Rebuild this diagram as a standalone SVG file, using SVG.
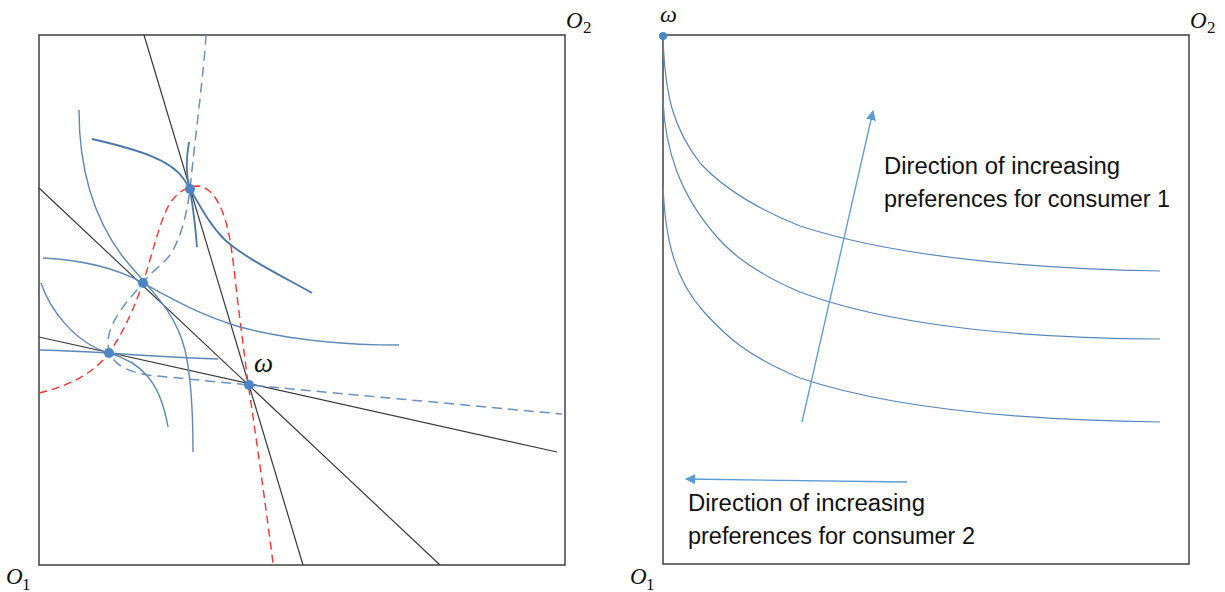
<svg xmlns="http://www.w3.org/2000/svg" width="1225" height="592" viewBox="0 0 1225 592">
<defs>
<style>
.box{fill:none;stroke:#404040;stroke-width:1.5}
.bl{fill:none;stroke:#3a3a3a;stroke-width:1.2}
.ic{fill:none;stroke:#5e88b8;stroke-width:1.4}
.icd{fill:none;stroke:#4a78a8;stroke-width:1.8}
.dash{fill:none;stroke:#6a92c0;stroke-width:1.5;stroke-dasharray:10 6}
.red{fill:none;stroke:#ff3030;stroke-width:1.4;stroke-dasharray:8 5}
.dot{fill:#4a86c5}
.ric{fill:none;stroke:#5a86bb;stroke-width:1.2}
.arr{fill:none;stroke:#5b9bd5;stroke-width:1.3}
.m{font-family:"Liberation Serif","DejaVu Serif",serif;font-style:italic;fill:#111}
.s{font-family:"Liberation Serif","DejaVu Serif",serif;fill:#111}
.t{font-family:"Liberation Sans",Arial,sans-serif;font-size:23px;fill:#111}
</style>
<marker id="ah" viewBox="0 0 10 10" refX="9" refY="5" markerWidth="10" markerHeight="10" markerUnits="userSpaceOnUse" orient="auto">
<path d="M0,0 L10,5 L0,10 z" fill="#5b9bd5"/>
</marker>
</defs>
<rect width="1225" height="592" fill="#fff"/>

<g id="left-panel">
<rect class="box" x="39" y="35" width="526" height="530"/>
</g>

<g id="left-connectors">
<line class="bl" x1="144" y1="35" x2="303" y2="565"/>
<line class="bl" x1="39" y1="188" x2="440" y2="565"/>
<line class="bl" x1="39" y1="337" x2="557" y2="452"/>
<path class="red" d="M39,393 C70,386 95,372 109,353 C125,330 135,305 143,283 C152,255 160,220 170,203 C178,192 186,187 197,186 C212,186 222,205 228,230 C233,252 236,290 240,320 L248,383 Q261,470 273,563"/>
<path class="dash" d="M206,35 C204,70 196,130 190,189 C187,215 180,240 170,255 C162,266 150,272 143,283 C128,300 110,320 108,340 C107,360 120,370 147,375 L249,385 L562,414"/>
<path class="icd" d="M92,139 C140,150 170,160 183,178 C195,195 205,220 225,240 C245,258 280,275 312,293"/>
<path class="icd" d="M189,142 Q184,170 190,189 Q195,220 197,247"/>
<path class="ic" d="M79,110 C79,170 95,220 123,257 C150,290 175,310 185,350 C192,380 193,420 193,452"/>
<path class="ic" d="M43,258 C85,260 120,270 143,283 C170,298 200,315 240,327 C290,340 340,345 399,345"/>
<path class="ic" d="M41,283 C50,310 75,343 109,353 C140,362 160,380 168,427"/>
<path class="ic" d="M40,350 C70,351 90,352 109,353 C150,356 190,358 218,359"/>
</g>

<g id="left-points">
<circle class="dot" cx="190" cy="189" r="5"/>
<circle class="dot" cx="143" cy="283" r="5"/>
<circle class="dot" cx="109" cy="353" r="5"/>
<circle class="dot" cx="249" cy="385" r="5"/>
</g>

<g id="left-labels">
<text class="m" x="566" y="28" font-size="23">O</text><text class="s" x="583" y="33" font-size="17">2</text>
<text class="m" x="6" y="584" font-size="23">O</text><text class="s" x="22" y="590" font-size="17">1</text>
<text class="m" x="254" y="372" font-size="27">ω</text>
</g>

<g id="right-panel">
<rect class="box" x="663" y="35" width="526" height="529"/>
</g>

<g id="right-curves">
<path class="ric" d="M663,37 C665,100 675,130 700,163 C725,190 760,210 800,226 C880,252 1000,268 1160,271"/>
<path class="ric" d="M663,100 C665,150 680,195 717,237 C735,258 760,275 800,292 C880,322 1000,338 1160,339"/>
<path class="ric" d="M663,185 C665,240 675,280 704,312 C725,335 745,355 800,378 C880,405 1000,420 1160,422"/>
</g>

<g id="right-arrows">
<line class="arr" x1="802" y1="422" x2="873" y2="111" marker-end="url(#ah)"/>
<line class="arr" x1="907" y1="482" x2="686" y2="479" marker-end="url(#ah)"/>
</g>

<g id="right-points">
<circle class="dot" cx="663" cy="36" r="4"/>
</g>

<g id="right-labels">
<text class="m" x="660" y="22" font-size="24">ω</text>
<text class="m" x="1190" y="28" font-size="23">O</text><text class="s" x="1207" y="33" font-size="17">2</text>
<text class="m" x="630" y="584" font-size="23">O</text><text class="s" x="646" y="590" font-size="17">1</text>
<text class="t" x="884" y="174" textLength="236" lengthAdjust="spacingAndGlyphs">Direction of increasing</text>
<text class="t" x="884" y="207" textLength="286" lengthAdjust="spacingAndGlyphs">preferences for consumer 1</text>
<text class="t" x="688" y="511" textLength="237" lengthAdjust="spacingAndGlyphs">Direction of increasing</text>
<text class="t" x="688" y="544" textLength="287" lengthAdjust="spacingAndGlyphs">preferences for consumer 2</text>
</g>
</svg>
